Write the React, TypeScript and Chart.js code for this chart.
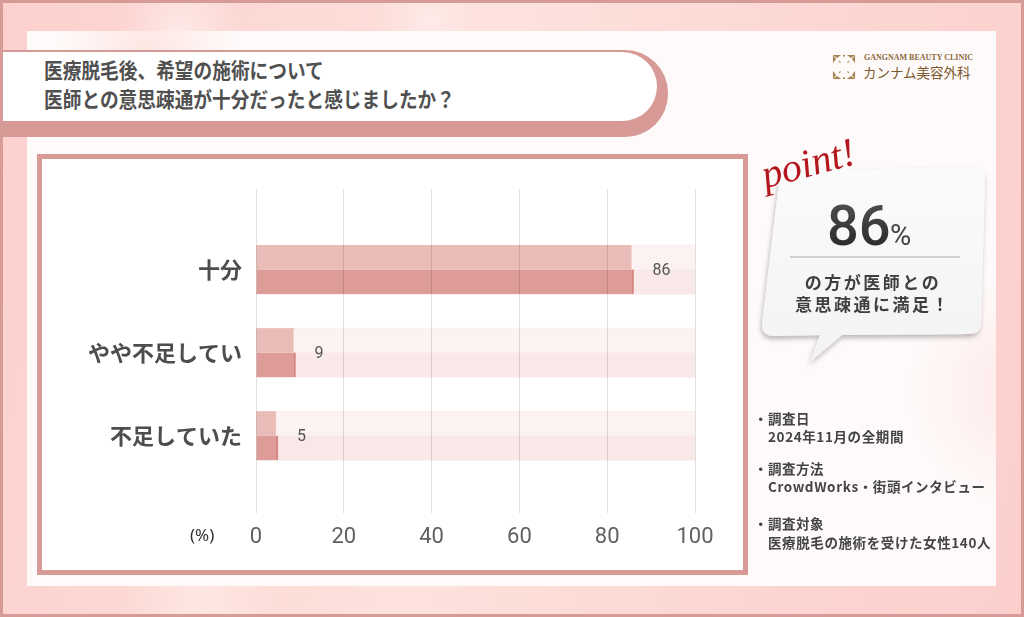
import React, { useEffect, useRef } from "react";
import { Chart, registerables } from "chart.js";

Chart.register(...registerables);

const categories = ["十分", "やや不足してい", "不足していた"];
const satisfaction = [86, 9, 5];
const fullScale = [100, 100, 100];
const xTicks = [0, 20, 40, 60, 80, 100];

const titleLines = ["医療脱毛後、希望の施術について", "医師との意思疎通が十分だったと感じましたか？"];
const pointValue = "86";
const pointLines = ["の方が医師との", "意思疎通に満足！"];
const notes = [
  ["調査日", "2024年11月の全期間"],
  ["調査方法", "CrowdWorks・街頭インタビュー"],
  ["調査対象", "医療脱毛の施術を受けた女性140人"],
];

const JP = '"Noto Sans CJK JP", "Noto Sans", sans-serif';

const halfTone = {
  id: "halfTone",
  afterDatasetsDraw(chart: any) {
    const ctx = chart.ctx;
    ctx.save();
    [1, 0].forEach((di) => {
      const ds: any = chart.data.datasets[di];
      const meta = chart.getDatasetMeta(di);
      meta.data.forEach((el: any) => {
        const p = el.getProps(["x", "y", "base", "height"], true);
        const left = Math.min(p.x, p.base);
        const right = Math.max(p.x, p.base) - (ds.edge || 0);
        ctx.fillStyle = ds.topColor;
        ctx.fillRect(left, p.y - p.height / 2, right - left, p.height / 2);
      });
    });
    const meta = chart.getDatasetMeta(0);
    ctx.font = "16px Roboto";
    ctx.fillStyle = "#555";
    ctx.textBaseline = "middle";
    ctx.textAlign = "left";
    meta.data.forEach((el: any, i: number) => {
      ctx.fillText(String(satisfaction[i]), el.x + 19, el.y + 1);
    });
    ctx.restore();
  },
};

function BarChart() {
  const ref = useRef<HTMLCanvasElement | null>(null);
  useEffect(() => {
    if (!ref.current) return;
    const chart = new Chart(ref.current, {
      type: "bar",
      data: {
        datasets: [
          {
            data: satisfaction.map((v, i) => ({ x: v, y: i })),
            backgroundColor: "#de9c98",
            topColor: "#e9bcb8",
            borderColor: "#d6847f",
            borderWidth: { right: 2, left: 0, top: 0, bottom: 0 },
            borderSkipped: false,
            barThickness: 49,
            grouped: false,
            edge: 2,
          } as any,
          {
            data: fullScale.map((v, i) => ({ x: v, y: i })),
            backgroundColor: "#f8e9e8",
            topColor: "#fcf2f1",
            borderWidth: 0,
            barThickness: 49,
            grouped: false,
          } as any,
        ],
      },
      options: {
        animation: false,
        responsive: false,
        indexAxis: "y",
        layout: { padding: { top: 30, right: 48, left: 0, bottom: 0 } },
        plugins: { legend: { display: false }, tooltip: { enabled: false } },
        scales: {
          x: {
            type: "linear",
            min: 0,
            max: 100,
            offset: false,
            afterBuildTicks: (s: any) => {
              s.ticks = xTicks.map((v) => ({ value: v }));
            },
            afterFit: (s: any) => {
              s.height = 57;
            },
            grid: { color: "rgba(0,0,0,0.12)", drawTicks: false, z: 1, lineWidth: 1 },
            border: { display: false },
            ticks: { font: { family: "Roboto", size: 22 }, color: "#616161", padding: 11 },
          },
          y: {
            type: "linear",
            reverse: true,
            offset: false,
            min: -0.97,
            max: 2.93,
            afterBuildTicks: (s: any) => {
              s.ticks = categories.map((_, i) => ({ value: i }));
            },
            afterFit: (s: any) => {
              s.width = 214;
            },
            grid: { display: false, drawTicks: false },
            border: { display: false },
            ticks: {
              callback: (v: any) => categories[v as number],
              font: { family: "Noto Sans CJK JP", size: 22, weight: "bold" },
              color: "#4d4d4d",
              padding: 14,
            },
          },
        },
      } as any,
      plugins: [halfTone],
    });
    return () => chart.destroy();
  }, []);
  return (
    <canvas
      ref={ref}
      width={701}
      height={411}
      style={{ position: "absolute", left: 42, top: 159, width: 701, height: 411 }}
    />
  );
}

function LogoIcon() {
  const g = "#a3804a";
  return (
    <svg width="24" height="26" viewBox="0 0 24 26" style={{ position: "absolute", left: 832, top: 54 }}>
      <path d="M1 1 L9 1 L5 4 Z M1 1 L1 9 L4 5 Z" fill={g} />
      <path d="M23 1 L15 1 L19 4 Z M23 1 L23 9 L20 5 Z" fill={g} />
      <path d="M1 25 L9 25 L5 22 Z M1 25 L1 17 L4 21 Z" fill={g} />
      <path d="M23 25 L15 25 L19 22 Z M23 25 L23 17 L20 21 Z" fill={g} />
      <path d="M6 6 L9 8 L8 9 Z M18 6 L15 8 L16 9 Z M6 20 L9 18 L8 17 Z M18 20 L15 18 L16 17 Z" fill={g} />
      <rect x="11" y="1" width="2" height="1.5" fill={g} />
      <rect x="11" y="23.5" width="2" height="1.5" fill={g} />
    </svg>
  );
}

export default function App() {
  useEffect(() => {
    document.body.style.margin = "0";
  }, []);
  const abs = (s: React.CSSProperties): React.CSSProperties => ({ position: "absolute", ...s });
  return (
    <div
      style={{
        position: "relative",
        width: 1024,
        height: 617,
        overflow: "hidden",
        fontFamily: JP,
        background:
          "radial-gradient(circle at 180px 30px, rgba(255,255,255,0.45) 0, rgba(255,255,255,0) 60px), radial-gradient(circle at 430px 20px, rgba(255,255,255,0.35) 0, rgba(255,255,255,0) 50px), radial-gradient(circle at 200px 600px, rgba(255,240,235,0.6) 0, rgba(255,255,255,0) 80px), linear-gradient(100deg, #fcd0cd 0%, #fde2dd 45%, #fcd6d2 75%, #fccfcd 100%)",
      }}
    >
      {/* inner panel */}
      <div
        style={abs({
          left: 27,
          top: 31,
          width: 969,
          height: 555,
          background:
            "radial-gradient(circle at 120px 20px, rgba(253,225,220,0.8) 0, rgba(255,250,250,0) 90px), radial-gradient(circle at 1000px 360px, rgba(252,228,226,0.8) 0, rgba(255,250,250,0) 120px), #fffafa",
        })}
      />
      {/* outer frame */}
      <div style={abs({ left: 0, top: 0, width: 1024, height: 617, border: "3px solid #d69a97", boxSizing: "border-box" })} />

      {/* title banner */}
      <div style={abs({ left: 3, top: 50, width: 665, height: 87, background: "#d89a96", borderRadius: "0 43px 43px 0" })} />
      <div style={abs({ left: 3, top: 52, width: 654, height: 69, background: "#ffffff", borderRadius: "0 35px 35px 0" })} />
      {titleLines.map((t, i) => (
        <div
          key={i}
          style={abs({
            left: 44,
            top: 57 + i * 29,
            fontSize: 21,
            lineHeight: "24px",
            fontWeight: 700,
            color: "#505050",
            whiteSpace: "nowrap",
            transform: "scaleX(0.89)",
            transformOrigin: "left center",
          })}
        >
          {t}
        </div>
      ))}

      {/* logo */}
      <LogoIcon />
      <div
        style={abs({
          left: 864,
          top: 52,
          fontFamily: '"Liberation Serif", serif',
          fontSize: 8,
          lineHeight: "11px",
          fontWeight: 700,
          color: "#8a6b3e",
          whiteSpace: "nowrap",
        })}
      >
        GANGNAM BEAUTY CLINIC
      </div>
      <div style={abs({ left: 863, top: 63, fontSize: 13.5, lineHeight: "18px", color: "#7b5a2d", whiteSpace: "nowrap" })}>
        カンナム美容外科
      </div>

      {/* chart panel */}
      <div style={abs({ left: 37, top: 154, width: 711, height: 421, border: "5px solid #d89a96", background: "#ffffff", boxSizing: "border-box" })} />
      <BarChart />
      <div style={abs({ left: 190, top: 524, fontFamily: '"Noto Sans", sans-serif', fontSize: 17, lineHeight: "22px", color: "#333" })}>(%)</div>

      {/* point bubble */}
      <svg width="1024" height="617" style={abs({ left: 0, top: 0, overflow: "visible" })}>
        <defs>
          <linearGradient id="bub" x1="0" y1="0" x2="0" y2="1">
            <stop offset="0" stopColor="#fbfbfb" />
            <stop offset="1" stopColor="#f3f3f3" />
          </linearGradient>
          <filter id="sh" x="-10%" y="-10%" width="130%" height="130%">
            <feDropShadow dx="-1" dy="3" stdDeviation="2.5" floodColor="#000" floodOpacity="0.28" />
          </filter>
          <linearGradient id="num" x1="0" y1="0" x2="0" y2="1">
            <stop offset="0" stopColor="#555" />
            <stop offset="1" stopColor="#222" />
          </linearGradient>
        </defs>
        <path
          d="M792 171 L973 167 Q985 167 985 179 L981 322 Q981 334 969 334 L842 335 L810 362 L820 335 L774 336 Q762 336 762 324 L779 183 Q780 171 792 171 Z"
          fill="url(#bub)"
          filter="url(#sh)"
        />
        <line x1="790" y1="257" x2="960" y2="257" stroke="#a8a8a8" strokeWidth="1" />
        <text x="827" y="245" fontFamily="Roboto" fontWeight={500} fontSize="56" fill="url(#num)">
          {pointValue}
        </text>
        <text x="890" y="245" fontFamily="Roboto" fontSize="29" fill="#444">
          %
        </text>
      </svg>
      <div
        style={abs({
          left: 768,
          top: 152,
          fontFamily: '"Liberation Serif", serif',
          fontStyle: "italic",
          fontSize: 40,
          lineHeight: "46px",
          color: "#b3161d",
          transform: "rotate(-15deg)",
          transformOrigin: "left bottom",
          whiteSpace: "nowrap",
        })}
      >
        point!
      </div>
      {pointLines.map((t, i) => (
        <div
          key={i}
          style={abs({
            left: 773,
            width: 200,
            textAlign: "center",
            top: 272 + i * 22,
            fontSize: 17,
            lineHeight: "20px",
            fontWeight: 700,
            letterSpacing: "2.5px",
            color: "#3f3f3f",
            whiteSpace: "nowrap",
          })}
        >
          {t}
        </div>
      ))}

      {/* notes */}
      {notes.map((n, i) => {
        const tops = [409, 459, 514];
        return (
          <div key={i}>
            <div style={abs({ left: 754, top: tops[i], fontSize: 13.5, lineHeight: "18px", color: "#444", fontWeight: 700, whiteSpace: "nowrap", letterSpacing: "0.5px" })}>
              ・{n[0]}
            </div>
            <div style={abs({ left: 768, top: tops[i] + (i === 2 ? 19 : 18), fontSize: 13.5, lineHeight: "18px", color: "#444", fontWeight: 700, whiteSpace: "nowrap", letterSpacing: "0.6px" })}>
              {n[1]}
            </div>
          </div>
        );
      })}
    </div>
  );
}
